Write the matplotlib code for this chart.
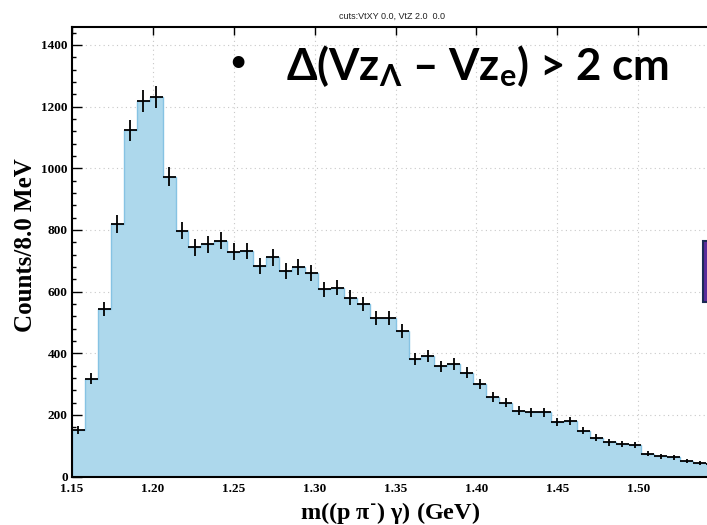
import numpy as np
import matplotlib
matplotlib.use("Agg")
import matplotlib.pyplot as plt
from matplotlib.ticker import MultipleLocator, FormatStrFormatter
from matplotlib.patches import Rectangle

# invariant mass histogram, 8 MeV bins starting at 1.15 GeV
bin_lo = 1.15
bin_w = 0.008
counts = [151, 317, 543, 820, 1123, 1218, 1231, 972, 797, 743,
          754, 764, 729, 731, 683, 711, 668, 680, 661, 607,
          612, 580, 559, 513, 513, 472, 381, 392, 357, 365,
          337, 300, 259, 240, 214, 209, 209, 178, 181, 149,
          126, 111, 106, 103, 74, 65, 63, 51, 45, 40]
title = "cuts:VtXY 0.0, VtZ 2.0  0.0"
xlabel = "m((p \u03c0$^{\\text{-}}$) \u03b3) (GeV)"
ylabel = "Counts/8.0 MeV"
cut_text = "$\\Delta$(Vz$_{\\Lambda}$ \u2013 Vz$_{\\mathrm{e}}$) > 2 cm"

counts = np.array(counts, dtype=float)
edges = bin_lo + bin_w * np.arange(len(counts) + 1)
centers = 0.5 * (edges[:-1] + edges[1:])

plt.rcParams['mathtext.fontset'] = 'custom'
plt.rcParams['mathtext.rm'] = 'Lato:bold'
plt.rcParams['mathtext.it'] = 'Lato:bold'
plt.rcParams['mathtext.bf'] = 'Lato:bold'

W, H = 707, 525
fig = plt.figure(figsize=(W / 100, H / 100), dpi=100)
ax = fig.add_axes([72 / W, 1 - 476.5 / H, 1 - 72 / W + 0.01, (476.5 - 27) / H])

ax.stairs(counts, edges, fill=True, facecolor='#add8ec', edgecolor='#86c3e3', linewidth=1.0, zorder=2)
ax.errorbar(centers, counts, xerr=bin_w / 2, yerr=np.sqrt(counts), fmt='none',
            ecolor='black', elinewidth=1.3, capsize=0, zorder=3)

ax.set_xlim(1.15, 1.15 + (W - 72) / 1600.0)
ax.set_ylim(0, 1458)

ax.xaxis.set_major_locator(MultipleLocator(0.05))
ax.xaxis.set_minor_locator(MultipleLocator(0.01))
ax.yaxis.set_major_locator(MultipleLocator(200))
ax.yaxis.set_minor_locator(MultipleLocator(40))
ax.xaxis.set_major_formatter(FormatStrFormatter('%.2f'))

ax.tick_params(which='both', direction='in', top=True, right=False)
ax.tick_params(which='major', length=6, width=1.0)
ax.tick_params(which='minor', length=3, width=1.0, top=False)
ax.tick_params(axis='x', which='major', pad=5)
ax.tick_params(axis='y', which='major', pad=3, length=7)
for lab in ax.get_xticklabels() + ax.get_yticklabels():
    lab.set_fontfamily('Liberation Serif')
    lab.set_fontweight('bold')
    lab.set_fontsize(9.5)

ax.grid(True, which='major', linestyle=(0, (1, 3)), color='#c8c8c8', linewidth=0.8, zorder=0)
ax.set_axisbelow(True)
ax.spines['right'].set_visible(False)
for s in ['left', 'bottom', 'top']:
    ax.spines[s].set_linewidth(1.5)
    ax.spines[s].set_zorder(5)

fig.text(392 / W, 1 - 16 / H, title, ha='center', va='center',
         fontsize=6.5, family='Liberation Sans', color='#222222')
fig.text(26 / W, 1 - 245 / H, ylabel, rotation=90, ha='center', va='center',
         fontsize=18, family='Liberation Serif', fontweight='bold')
fig.text(390 / W, 1 - 513 / H, xlabel, ha='center', va='center',
         fontsize=17.5, family='Liberation Serif', fontweight='bold')

fig.text(238 / W, 1 - 66 / H, "\u2022", ha='center', va='center',
         fontsize=24, family='DejaVu Sans', fontweight='bold')
fig.text(286 / W, 1 - 80 / H, cut_text, ha='left', va='baseline',
         fontsize=31.5, family='Lato', fontweight='bold')

fig.patches.append(Rectangle((703 / W, 1 - 302 / H), 6 / W, 61 / H, transform=fig.transFigure,
                             facecolor='#5b2d9c', edgecolor='#1b2a55', linewidth=1.5, zorder=10))

fig.savefig('out.png', dpi=100)
